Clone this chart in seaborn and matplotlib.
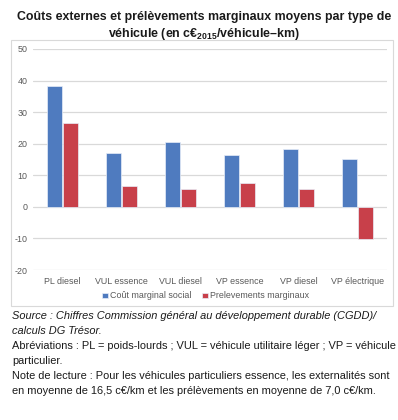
import matplotlib
matplotlib.use("Agg")
import matplotlib.pyplot as plt
import seaborn as sns
import pandas as pd
from matplotlib.patches import Rectangle

categories = ["PL diesel", "VUL essence", "VUL diesel", "VP essence", "VP diesel", "VP électrique"]
cout_marginal_social = [38.3, 17.1, 20.6, 16.4, 18.2, 15.3]
prelevements_marginaux = [26.6, 6.6, 5.5, 7.4, 5.5, -10.3]
series_names = ["Coût marginal social", "Prelevements marginaux"]
yticks = [-20, -10, 0, 10, 20, 30, 40, 50]

title = "Coûts externes et prélèvements marginaux moyens par type de\nvéhicule (en c€$_{2015}$/véhicule–km)"
notes = [
    ("Source : Chiffres Commission général au développement durable (CGDD)/", "italic"),
    ("calculs DG Trésor.", "italic"),
    ("Abréviations : PL = poids-lourds ; VUL = véhicule utilitaire léger ; VP = véhicule", "normal"),
    ("particulier.", "normal"),
    ("Note de lecture : Pour les véhicules particuliers essence, les externalités sont", "normal"),
    ("en moyenne de 16,5 c€/km et les prélèvements en moyenne de 7,0 c€/km.", "normal"),
]

df = pd.DataFrame({
    "cat": categories * 2,
    "val": cout_marginal_social + prelevements_marginaux,
    "serie": [series_names[0]] * len(categories) + [series_names[1]] * len(categories),
})

sns.set_theme(style="white")
plt.rcParams["font.family"] = ["Liberation Sans", "DejaVu Sans"]
plt.rcParams["mathtext.fontset"] = "custom"
plt.rcParams["mathtext.rm"] = "Liberation Sans:bold"
plt.rcParams["mathtext.bf"] = "Liberation Sans:bold"
plt.rcParams["mathtext.default"] = "bf"

W, H = 398, 420
fig = plt.figure(figsize=(W / 100, H / 100), dpi=100)

# chart box
fig.patches.append(Rectangle((11 / W, 1 - 306 / H), 382 / W, 266 / H, transform=fig.transFigure,
                             facecolor="white", edgecolor="#D9D9D9", linewidth=0.8, zorder=-5))

ax = fig.add_axes([33 / W, 1 - 270 / H, 354 / W, 221 / H])
ax.set_zorder(2)
ax.set_facecolor("none")
palette = {series_names[0]: "#4F7BBF", series_names[1]: "#C8404A"}
sns.barplot(data=df, x="cat", y="val", hue="serie", palette=palette, ax=ax,
            width=0.56, gap=0.12, edgecolor="#E8EEF8", linewidth=0.5, saturation=1)

ax.set_ylim(-20, 50)
ax.set_yticks(yticks)
ax.set_yticklabels([str(t) for t in yticks])
ax.set_xlim(-0.5, len(categories) - 0.5)
ax.grid(axis="y", color="#D9D9D9", linewidth=0.9)
ax.set_axisbelow(True)
for s in ax.spines.values():
    s.set_visible(False)
ax.tick_params(axis="both", length=0, labelsize=6.4, labelcolor="#595959")
ax.tick_params(axis="y", pad=4)
ax.tick_params(axis="x", pad=5)
ax.set_xlabel("")
ax.set_ylabel("")

leg = ax.legend(loc="center", bbox_to_anchor=(0.5 - 4 / 354, (270 - 296) / 221), ncol=2, frameon=False,
                fontsize=6.4, handlelength=0.6, handleheight=0.6, handletextpad=0.3, columnspacing=1.2)
for t in leg.get_texts():
    t.set_color("#595959")

fig.text(204 / W, 1 - 26.5 / H, title, ha="center", va="center", fontsize=8.9, fontweight="bold",
         color="#1a1a1a", linespacing=1.35)

y0 = 316
for i, (line, style) in enumerate(notes):
    fig.text(12 / W, 1 - (y0 + i * 15) / H, line, ha="left", va="center", fontsize=7.9,
             style=style, color="#1a1a1a")

fig.savefig("out.png", dpi=100)
